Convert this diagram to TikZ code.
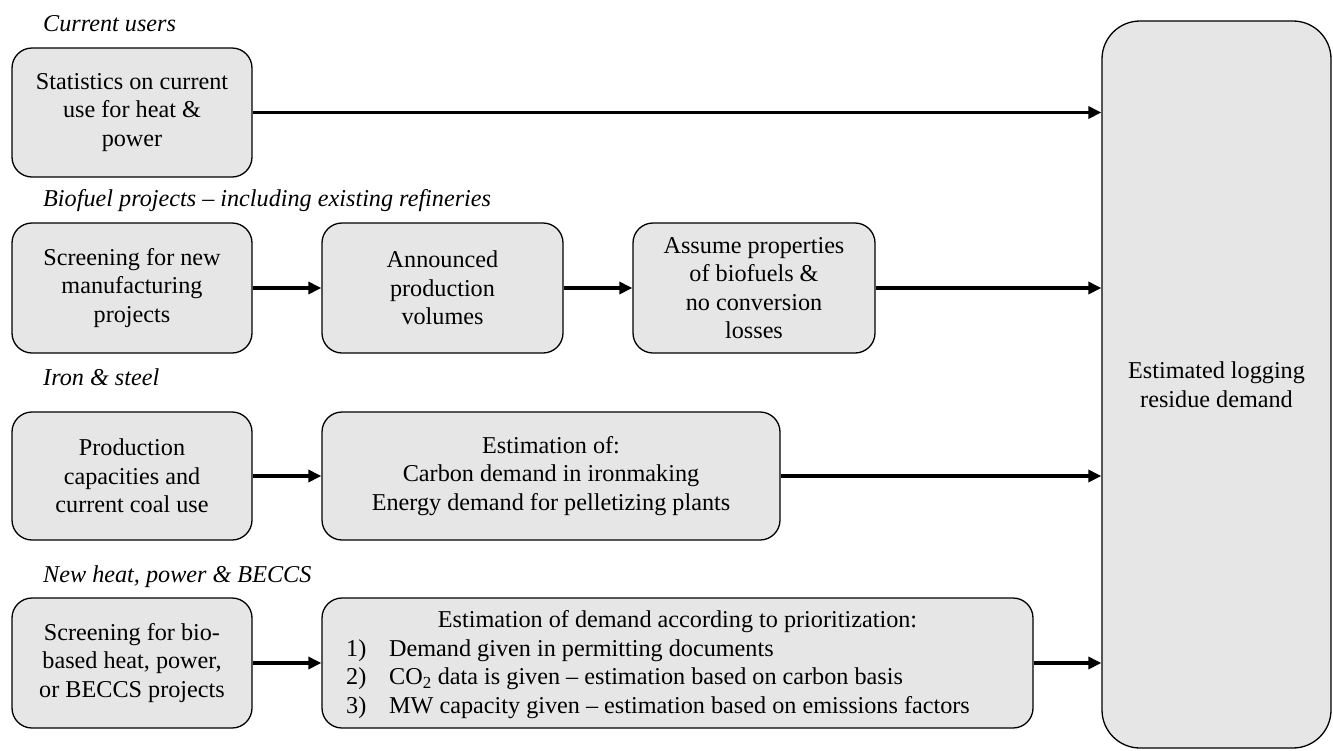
\documentclass[tikz,border=0pt]{standalone}
\usepackage{fontspec}
\setmainfont{Liberation Serif}
\usetikzlibrary{arrows.meta}
\definecolor{boxgray}{HTML}{E6E6E6}
\begin{document}
\begin{tikzpicture}[x=1pt,y=-1pt,
  every node/.style={font=\fontsize{24.2}{28.5}\selectfont},
  stepbox/.style={draw=black,line width=1.3pt,fill=boxgray,rounded corners=20pt,
     align=center,inner sep=0pt,minimum height=#1},
  stepbox/.default=130pt,
  grouplabel/.style={anchor=west,inner sep=0pt,font=\fontsize{24.2}{28.5}\selectfont\itshape},
  flow/.style={line width=3.5pt,-{Triangle[length=13pt,width=12pt]}}
]
\useasboundingbox (0,0) rectangle (1333,750);

% big result box
\node[stepbox=727pt,rounded corners=38pt,minimum width=229pt] (res) at (1216.5,384.5)
  {Estimated logging\\residue demand};

% row 1
\node[grouplabel] (l1) at (43,24) {Current users};
\node[stepbox=129pt,minimum width=240pt] (s1) at (132,112.5)
  {Statistics on current\\use for heat \&\\power};

% row 2
\node[grouplabel] (l2) at (43,201) {Biofuel projects – including existing refineries};
\node[stepbox,minimum width=240pt] (b1) at (132,288)
  {Screening for new\\manufacturing\\projects};
\node[stepbox,minimum width=241pt] (b2) at (442.5,288)
  {Announced\\production\\volumes};
\node[stepbox,minimum width=242pt] (b3) at (754,288)
  {Assume properties\\of biofuels \&\\no conversion\\losses};

% row 3
\node[grouplabel] (l3) at (43,377) {Iron \& steel};
\node[stepbox=128pt,minimum width=240pt] (i1) at (132,476)
  {Production\\capacities and\\current coal use};
\node[stepbox=128pt,minimum width=458pt] (i2) at (551,476)
  {Estimation of:\\Carbon demand in ironmaking\\Energy demand for pelletizing plants};

% row 4
\node[grouplabel] (l4) at (43,577) {New heat, power \& BECCS};
\node[stepbox,minimum width=240pt] (n1) at (132,663)
  {Screening for bio-\\based heat, power,\\or BECCS projects};
\node[stepbox,minimum width=711pt] (n2) at (677.5,663) {};
\node[inner sep=0pt] (n2h) at (677.5,622)
  {Estimation of demand according to prioritization:};
\node[anchor=west,inner sep=0pt] (n2t) at (346,679)
  {\begin{tabular}{@{}p{43pt}@{}l@{}}
   1) & Demand given in permitting documents\\
   2) & CO\textsubscript{2} data is given – estimation based on carbon basis\\
   3) & MW capacity given – estimation based on emissions factors
   \end{tabular}};

% connectors
\draw[flow] (s1.east) -- (s1.east -| res.west);
\draw[flow] (b1) -- (b2);
\draw[flow] (b2) -- (b3);
\draw[flow] (b3.east) -- (b3.east -| res.west);
\draw[flow] (i1) -- (i2);
\draw[flow] (i2.east) -- (i2.east -| res.west);
\draw[flow] (n1) -- (n2);
\draw[flow] (n2.east) -- (n2.east -| res.west);
\end{tikzpicture}
\end{document}
